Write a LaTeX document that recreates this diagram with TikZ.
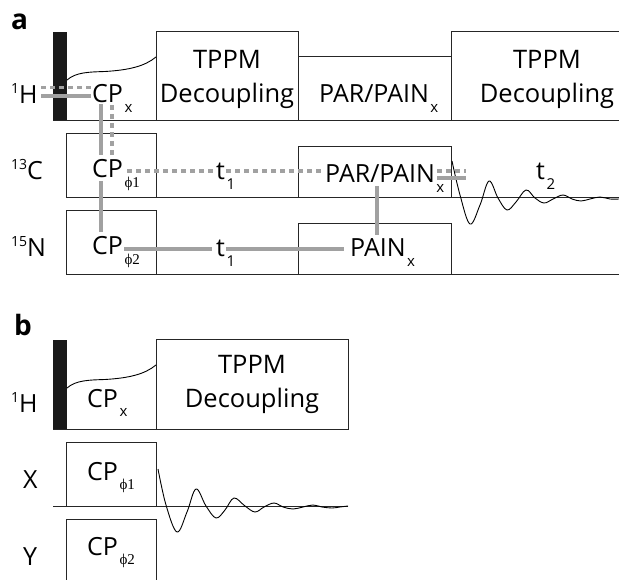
\documentclass[tikz,border=0pt]{standalone}
\usepackage{fontspec}
\setmainfont{Open Sans}
\newfontfamily\greekfont{Liberation Serif}
\newcommand{\pulsesub}[1]{\hspace{1.5pt}\raisebox{-9.5pt}{\fontsize{15}{15}\selectfont #1}}
\newcommand{\phasesub}[1]{\hspace{1.5pt}\raisebox{-9.5pt}{\fontsize{15}{15}\greekfont\selectfont ϕ#1}}
\newcommand{\nucsup}[1]{\raisebox{10pt}{\fontsize{14}{14}\selectfont #1}}
\tikzset{
    pulsetext/.style={anchor=base west, inner sep=0pt, font=\fontsize{25}{34}\selectfont},
    blocktext/.style={anchor=base, inner sep=0pt, font=\fontsize{25.5}{34}\selectfont, align=center},
    panellabel/.style={anchor=base west, inner sep=0pt, font=\fontsize{28}{28}\selectfont\bfseries},
    pulsebox/.style={draw=black!85, line width=1pt},
    seqline/.style={black!85, line width=1pt},
    hardpulse/.style={fill=black!90, draw=none},
    shapeline/.style={black, line width=0.9pt},
    soliddir/.style={draw=black!37, line width=3.6pt},
    dashdir/.style={draw=black!37, line width=3.6pt, dash pattern=on 5pt off 4pt}
}
\begin{document}
\begin{tikzpicture}[x=1pt,y=-1pt]
    \useasboundingbox (0,0) rectangle (619,580);

    \node[panellabel] (laba) at (11,30) {a};
    \node[panellabel] (labb) at (14,336) {b};

    \fill[hardpulse] (53,32) rectangle (67,121);
    \draw[pulsebox] (156,32) rectangle (298,121);
    \draw[pulsebox] (298,57) rectangle (451,121);
    \draw[pulsebox] (451,32) -- (619,32);
    \draw[pulsebox] (451,32) -- (451,121);
    \draw[pulsebox] (66,134) rectangle (156,198);
    \draw[pulsebox] (298,147) rectangle (451,198);
    \draw[pulsebox] (66,211) rectangle (156,275);
    \draw[pulsebox] (298,224) rectangle (451,275);
    \draw[seqline] (53,121) -- (619,121);
    \draw[seqline] (66,198) -- (619,198);
    \draw[seqline] (66,275) -- (619,275);
    \draw[shapeline] (67,80) .. controls (76,72) and (90,72) .. (105,71.5) .. controls (130,70) and (145,66) .. (156,57);
    \draw[shapeline] plot[smooth, tension=0.6] coordinates {(452,161) (460,195) (470,224) (480,205) (489,181) (498,198) (507,210) (516,202) (526,190) (535,198) (544,203) (553,199) (563,195) (572,199) (581,201) (590,199) (600,197) (610,199) (619,199)};

    \node[pulsetext] (ha) at (11,104) {\nucsup{1}H};
    \node[pulsetext] (ca) at (11,180) {\nucsup{13}C};
    \node[pulsetext] (na) at (11,257) {\nucsup{15}N};
    \node[blocktext] (tppma) at (227,103) {TPPM\\Decoupling};
    \node[blocktext] (tppmc) at (547,103) {TPPM\\Decoupling};
    \node[pulsetext] (parh) at (319,103) {PAR/PAIN\pulsesub{x}};
    \node[pulsetext] (parc) at (325,183) {PAR/PAIN\pulsesub{x}};
    \node[pulsetext] (pain) at (350,257) {PAIN\pulsesub{x}};
    \node[pulsetext] (cpx) at (92,103) {CP\pulsesub{x}};
    \node[pulsetext] (cpc) at (92,178) {CP\phasesub{1}};
    \node[pulsetext] (cpn) at (92,255) {CP\phasesub{2}};
    \node[pulsetext] (tc) at (216,180) {t\pulsesub{1}};
    \node[pulsetext] (tn) at (216,257) {t\pulsesub{1}};
    \node[pulsetext] (tfid) at (536,180) {t\pulsesub{2}};

    \coordinate (hs) at (41,96);
    \coordinate (hse) at (91,96);
    \coordinate (hd) at (41,87.5);
    \coordinate (hde) at (91,87.5);
    \coordinate (vsa) at (101,104);
    \coordinate (vsb) at (101,155);
    \coordinate (vda) at (112,105);
    \coordinate (vdb) at (112,155);
    \coordinate (vsc) at (101,181);
    \coordinate (vsd) at (101,232);
    \coordinate (dca) at (127,171);
    \coordinate (dcb) at (213,171);
    \coordinate (dcc) at (226,171);
    \coordinate (dcd) at (323,171);
    \coordinate (dce) at (437,171);
    \coordinate (dcf) at (466,171);
    \coordinate (sce) at (437,178);
    \coordinate (scf) at (466,178);
    \coordinate (pva) at (377,186);
    \coordinate (pvb) at (377,235);
    \coordinate (sna) at (124,249);
    \coordinate (snb) at (212,249);
    \coordinate (snc) at (226,249);
    \coordinate (snd) at (344,249);

    \draw[soliddir] (hs) -- (hse);
    \draw[dashdir] (hd) -- (hde);
    \draw[soliddir] (vsa) -- (vsb);
    \draw[dashdir] (vda) -- (vdb);
    \draw[soliddir] (vsc) -- (vsd);
    \draw[dashdir] (dca) -- (dcb);
    \draw[dashdir] (dcc) -- (dcd);
    \draw[dashdir] (dce) -- (dcf);
    \draw[soliddir] (sce) -- (scf);
    \draw[soliddir] (pva) -- (pvb);
    \draw[soliddir] (sna) -- (snb);
    \draw[soliddir] (snc) -- (snd);

    \fill[hardpulse] (53,340) rectangle (67,429);
    \draw[pulsebox] (156,340) rectangle (348,429);
    \draw[pulsebox] (66,442) rectangle (156,506);
    \draw[pulsebox] (66,580) -- (66,519) -- (156,519) -- (156,580);
    \draw[seqline] (53,429) -- (348,429);
    \draw[seqline] (53,506) -- (348,506);
    \draw[shapeline] (67,388) .. controls (76,380) and (90,380) .. (105,379.5) .. controls (130,378) and (145,374) .. (156,365);
    \draw[shapeline] plot[smooth, tension=0.6] coordinates {(158,469) (166,505) (177,532) (187,512) (196,489) (206,506) (216,518) (225,510) (234,498) (245,506) (255,512) (264,507) (274,503) (283,507) (293,509) (303,507) (313,505) (322,507) (332,508) (340,507) (348,506)};

    \node[pulsetext] (hb) at (11,412) {\nucsup{1}H};
    \node[pulsetext] (xb) at (23,488) {X};
    \node[pulsetext] (yb) at (23,565) {Y};
    \node[blocktext] (tppmb) at (252,407) {TPPM\\Decoupling};
    \node[pulsetext] (cpxb) at (87,407) {CP\pulsesub{x}};
    \node[pulsetext] (cpcb) at (87,480) {CP\phasesub{1}};
    \node[pulsetext] (cpnb) at (87,555) {CP\phasesub{2}};
\end{tikzpicture}
\end{document}
